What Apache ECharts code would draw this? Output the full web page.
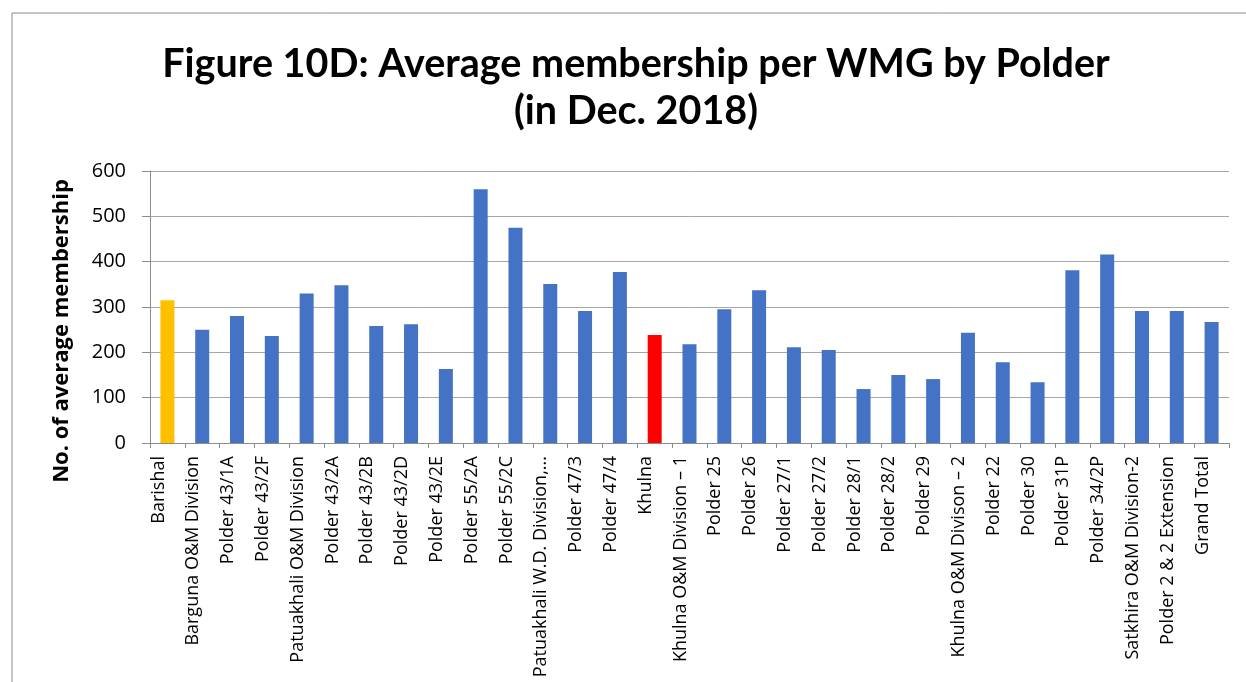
<!DOCTYPE html>
<html>
<head>
<meta charset="utf-8">
<script src="https://cdn.jsdelivr.net/npm/echarts@6/dist/echarts.min.js"></script>
<style>
  html, body { margin: 0; padding: 0; background: #fff; }
  #chart { width: 1246px; height: 682px; }
</style>
</head>
<body>
<div id="chart"></div>
<script>
// categories along the x axis
const categories = [
  'Barishal', 'Barguna O&M Division', 'Polder 43/1A', 'Polder 43/2F',
  'Patuakhali O&M Division', 'Polder 43/2A', 'Polder 43/2B', 'Polder 43/2D',
  'Polder 43/2E', 'Polder 55/2A', 'Polder 55/2C', 'Patuakhali W.D. Division,...',
  'Polder 47/3', 'Polder 47/4', 'Khulna', 'Khulna O&M Division \u2013 1',
  'Polder 25', 'Polder 26', 'Polder 27/1', 'Polder 27/2', 'Polder 28/1',
  'Polder 28/2', 'Polder 29', 'Khulna O&M Divison \u2013 2', 'Polder 22',
  'Polder 30', 'Polder 31P', 'Polder 34/2P', 'Satkhira O&M Division-2',
  'Polder 2 & 2 Extension', 'Grand Total'
]
// average membership
const membership = [
  315, 250, 280, 236, 330, 348, 258, 262, 163, 560, 475, 351, 291, 377, 238,
  218, 295, 337, 211, 205, 119, 150, 141, 243, 178, 134, 381, 416, 291, 291, 267
]
// bars that are highlighted (zone totals)
const highlight = { 'Barishal': '#FFC000', 'Khulna': '#FF0000' }

const chart = echarts.init(document.getElementById('chart'))

const option = {
  animation: false,
  backgroundColor: '#fff',
  title: {
    text: 'Figure 10D: Average membership per WMG by Polder\n(in Dec. 2018)',
    left: 631,
    textAlign: 'center',
    top: 36,
    textStyle: {
      fontFamily: 'Lato',
      fontWeight: 'bold',
      fontSize: 39.5,
      lineHeight: 47,
      color: '#000'
    }
  },
  graphic: [
    { type: 'line', shape: { x1: 12, y1: 13, x2: 1246, y2: 13 }, style: { stroke: '#8c8c8c', lineWidth: 1 } },
    { type: 'line', shape: { x1: 12, y1: 13, x2: 12, y2: 682 }, style: { stroke: '#8c8c8c', lineWidth: 1 } }
  ],
  grid: { left: 150, right: 17, top: 171, bottom: 239, outerBoundsMode: 'none' },
  xAxis: {
    type: 'category',
    data: categories,
    axisLine: { lineStyle: { color: '#8c8c8c', width: 1 } },
    axisTick: { show: true, length: 5, lineStyle: { color: '#8c8c8c' } },
    axisLabel: {
      interval: 0,
      rotate: 90,
      fontFamily: 'Open Sans',
      fontSize: 18,
      lineHeight: 18,
      color: '#000',
      margin: 13,
      // trailing blank line nudges the rotated text left of the tick, as in the original
      formatter: v => v + '\n '
    }
  },
  yAxis: {
    type: 'value',
    min: 0,
    max: 600,
    interval: 100,
    name: 'No. of average membership',
    nameLocation: 'middle',
    nameGap: 77,
    nameTextStyle: {
      fontFamily: 'Open Sans', fontWeight: 'bold', fontSize: 22, color: '#000',
      padding: [0, 48, 0, 0]
    },
    axisLine: { show: true, lineStyle: { color: '#8c8c8c' } },
    axisTick: { show: true, length: 8, lineStyle: { color: '#8c8c8c' } },
    axisLabel: { fontFamily: 'Open Sans', fontSize: 20, color: '#000', margin: 24 },
    splitLine: { show: true, lineStyle: { color: '#a6a6a6', width: 1 } }
  },
  series: [{
    type: 'bar',
    barWidth: 14,
    data: categories.map((c, i) => ({
      value: membership[i],
      itemStyle: { color: highlight[c] || '#4472C4' }
    }))
  }]
}

chart.setOption(option)
</script>
</body>
</html>
